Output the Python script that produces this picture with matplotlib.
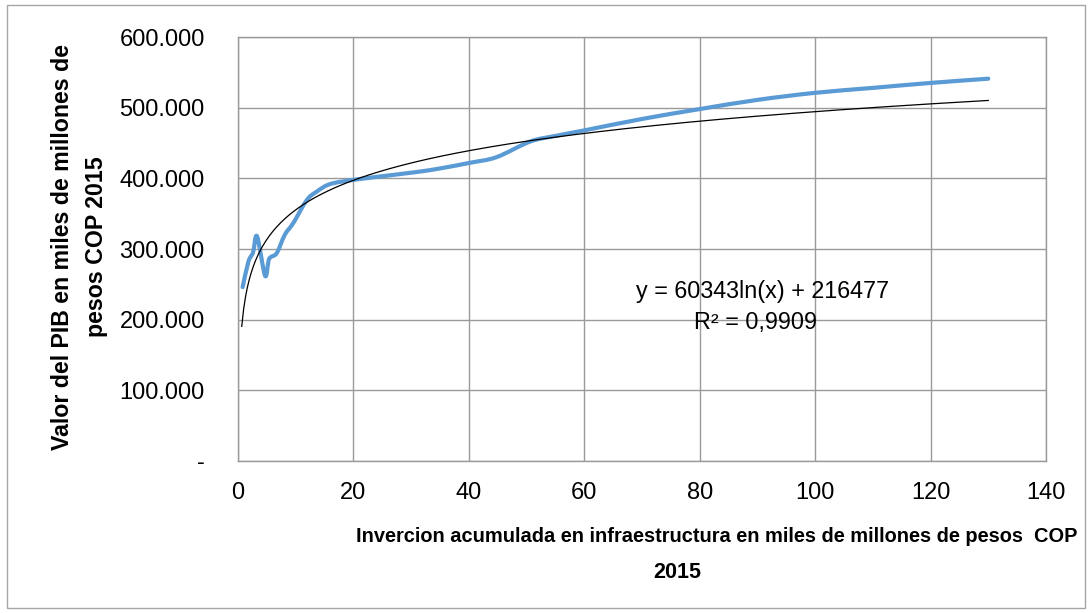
"""PIB vs inversion acumulada en infraestructura"""
import numpy as np
import matplotlib
matplotlib.use("Agg")
import matplotlib.pyplot as plt
from matplotlib.path import Path
from matplotlib.patches import PathPatch, Rectangle
from matplotlib.ticker import FuncFormatter

# Datos (x en miles de millones, y en millones)
inversion = [0.8, 1.8, 2.6, 3.3, 4.7, 5.4, 6.7, 8.1, 9.6, 11.9, 13.6, 16,
             20.2, 25, 31, 35, 40.2, 44.8, 50.6, 55, 60.1, 70, 80, 90, 100,
             110, 120, 130]
pib = [246000, 282000, 295000, 318000, 262000, 286000, 294000, 320000,
       337000, 369000, 381000, 392000, 398000, 403000, 409000, 414000,
       422000, 430000, 452000, 460000, 468000, 484000, 498000, 511000,
       521000, 528000, 535000, 541000]

# Linea de tendencia logaritmica (ecuacion mostrada en el grafico)
coef_a = 60343
coef_b = 216477
x_tend_min = 0.65
x_tend_max = 130

x_ticks = [0, 20, 40, 60, 80, 100, 120, 140]
y_ticks = [0, 100000, 200000, 300000, 400000, 500000, 600000]

azul = "#5B9BD5"
gris = "#9A9A9A"

plt.rcParams["font.family"] = ["Liberation Sans", "DejaVu Sans"]


def smooth_path(xs, ys):
    """Curva suavizada tipo Excel (Catmull-Rom -> Bezier)"""
    pts = np.column_stack([xs, ys]).astype(float)
    verts = [pts[0]]
    codes = [Path.MOVETO]
    n = len(pts)
    for i in range(n - 1):
        p0 = pts[i - 1] if i > 0 else pts[i]
        p1 = pts[i]
        p2 = pts[i + 1]
        p3 = pts[i + 2] if i + 2 < n else pts[i + 1]
        c1 = p1 + (p2 - p0) / 6.0
        c2 = p2 - (p3 - p1) / 6.0
        verts += [c1, c2, p2]
        codes += [Path.CURVE4] * 3
    return Path(verts, codes)


fig = plt.figure(figsize=(10.89, 6.13), dpi=100)
fig.patches.append(Rectangle((7 / 1089, 1 - 608 / 613), 1078 / 1089,
                             603 / 613, transform=fig.transFigure,
                             fill=False, edgecolor="#A6A6A6", lw=1))
ax = fig.add_axes([238 / 1089, 1 - 461 / 613, 808 / 1089, 424 / 613])

ax.set_xlim(0, 140)
ax.set_ylim(0, 600000)
ax.set_xticks(x_ticks)
ax.set_yticks(y_ticks)
ax.grid(True, color=gris, lw=1)
for s in ax.spines.values():
    s.set_color(gris)
    s.set_linewidth(1)
ax.tick_params(length=0, labelsize=17, colors="black")
ax.tick_params(axis="x", pad=15)
ax.tick_params(axis="y", pad=24)
ax.yaxis.set_major_formatter(FuncFormatter(
    lambda v, p: "-" if v == 0 else f"{int(v):,}".replace(",", ".")))

patch = PathPatch(smooth_path(inversion, pib), facecolor="none",
                  edgecolor=azul, lw=3.0, capstyle="round",
                  joinstyle="round", zorder=3)
ax.add_patch(patch)

x_tend = np.linspace(x_tend_min, x_tend_max, 400)
ax.plot(x_tend, coef_a * np.log(x_tend) + coef_b, color="black", lw=0.9,
        zorder=4)

ax.text(763 / 1089, 1 - 292 / 613, "y = 60343ln(x) + 216477",
        transform=fig.transFigure, ha="center", va="center", fontsize=16.8)
ax.text(756 / 1089, 1 - 323 / 613, "R² = 0,9909",
        transform=fig.transFigure, ha="center", va="center", fontsize=16.8)

fig.text(717 / 1089, 1 - 537 / 613,
         "Invercion acumulada en infraestructura en miles de millones de pesos  COP",
         ha="center", va="center", fontsize=14.4, fontweight="bold")
fig.text(677 / 1089, 1 - 572 / 613, "2015", ha="center", va="center",
         fontsize=15.5, fontweight="bold")
fig.text(63 / 1089, 1 - 247 / 613, "Valor del PIB en miles de millones de",
         ha="center", va="center", rotation=90, fontsize=16.7,
         fontweight="bold")
fig.text(96 / 1089, 1 - 247 / 613, "pesos COP 2015", ha="center",
         va="center", rotation=90, fontsize=16.7, fontweight="bold")

fig.savefig("out.png", dpi=100)
